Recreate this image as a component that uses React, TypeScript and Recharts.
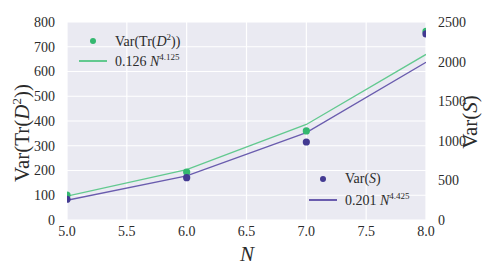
import React from 'react';
import {
  ComposedChart,
  Line,
  Scatter,
  XAxis,
  YAxis,
  CartesianGrid,
} from 'recharts';

const nValues = [5, 6, 7, 8];
const trFit = [96, 204, 386, 669];
const sFit = [249, 558, 1103, 1991];
const trObserved = [101, 194, 360, 762];
const sObserved = [262, 535, 985, 2350];

const xTicks = [5, 5.5, 6, 6.5, 7, 7.5, 8];
const leftTicks = [0, 100, 200, 300, 400, 500, 600, 700, 800];
const rightTicks = [0, 500, 1000, 1500, 2000, 2500];

const GREEN_DOT = '#34b870';
const GREEN_LINE = '#62c98f';
const PURPLE_DOT = '#433a92';
const PURPLE_LINE = '#6a5cae';
const FONT = 'Times New Roman, Liberation Serif, serif';
const TEXT = '#2b2b2b';

const fitData = nValues.map((n, i) => ({ n, trFit: trFit[i], sFit: sFit[i] }));
const trPoints = nValues.map((n, i) => ({ n, y: trObserved[i] }));
const sPoints = nValues.map((n, i) => ({ n, y: sObserved[i] }));

const tickStyle = { fontSize: 14, fill: TEXT, fontFamily: FONT };

function Dot({ cx, cy, fill }: { cx?: number; cy?: number; fill?: string }) {
  if (cx == null || cy == null) return null;
  return <circle cx={cx} cy={cy} r={3.6} fill={fill} />;
}

function LegendRow({
  x,
  y,
  kind,
  color,
  children,
}: {
  x: number;
  y: number;
  kind: 'dot' | 'line';
  color: string;
  children: React.ReactNode;
}) {
  return (
    <div
      style={{
        position: 'absolute',
        left: x,
        top: y - 10,
        height: 20,
        display: 'flex',
        alignItems: 'center',
        fontFamily: FONT,
        fontSize: 14,
        color: TEXT,
        whiteSpace: 'nowrap',
      }}
    >
      <span style={{ width: 45, display: 'flex', justifyContent: 'center' }}>
        {kind === 'dot' ? (
          <span style={{ width: 6, height: 6, borderRadius: 3, background: color }} />
        ) : (
          <span style={{ width: 28, height: 1.3, background: color }} />
        )}
      </span>
      <span>{children}</span>
    </div>
  );
}

export default function App() {
  return (
    <div
      style={{
        position: 'absolute',
        left: 0,
        top: 0,
        width: 498,
        height: 277,
        background: '#fff',
      }}
    >
      <ComposedChart
        width={498}
        height={277}
        data={fitData}
        margin={{ top: 22, right: 0, bottom: 0, left: 0 }}
      >
        <CartesianGrid
          yAxisId="left"
          fill="#EAEAF2"
          stroke="#ffffff"
          strokeWidth={1.2}
          horizontalValues={leftTicks}
          verticalValues={xTicks}
        />
        <XAxis
          dataKey="n"
          type="number"
          domain={[5, 8]}
          ticks={xTicks}
          allowDataOverflow
          tickFormatter={(v: number) => v.toFixed(1)}
          tick={tickStyle}
          axisLine={false}
          tickLine={false}
          tickMargin={0}
          height={57}
        />
        <YAxis
          yAxisId="left"
          domain={[0, 800]}
          ticks={leftTicks}
          tick={tickStyle}
          axisLine={false}
          tickLine={false}
          tickMargin={6}
          width={67}
        />
        <YAxis
          yAxisId="right"
          orientation="right"
          domain={[0, 2500]}
          ticks={rightTicks}
          tick={{ ...tickStyle, textAnchor: 'start' }}
          axisLine={false}
          tickLine={false}
          tickMargin={6}
          width={72}
        />
        <Line
          yAxisId="left"
          dataKey="trFit"
          stroke={GREEN_LINE}
          strokeWidth={1.3}
          dot={false}
          isAnimationActive={false}
        />
        <Line
          yAxisId="right"
          dataKey="sFit"
          stroke={PURPLE_LINE}
          strokeWidth={1.3}
          dot={false}
          isAnimationActive={false}
        />
        <Scatter
          yAxisId="left"
          data={trPoints}
          dataKey="y"
          fill={GREEN_DOT}
          shape={<Dot />}
          isAnimationActive={false}
        />
        <Scatter
          yAxisId="right"
          data={sPoints}
          dataKey="y"
          fill={PURPLE_DOT}
          shape={<Dot />}
          isAnimationActive={false}
        />
      </ComposedChart>

      <LegendRow x={70} y={41} kind="dot" color={GREEN_DOT}>
        Var(Tr(<i>D</i>
        <sup style={{ fontSize: 9 }}>2</sup>))
      </LegendRow>
      <LegendRow x={70} y={61} kind="line" color={GREEN_LINE}>
        0.126 <i>N</i>
        <sup style={{ fontSize: 9 }}>4.125</sup>
      </LegendRow>
      <LegendRow x={300} y={179} kind="dot" color={PURPLE_DOT}>
        Var(<i>S</i>)
      </LegendRow>
      <LegendRow x={300} y={200} kind="line" color={PURPLE_LINE}>
        0.201 <i>N</i>
        <sup style={{ fontSize: 9 }}>4.425</sup>
      </LegendRow>

      <div
        style={{
          position: 'absolute',
          left: 247,
          top: 254,
          transform: 'translate(-50%, -50%)',
          fontFamily: FONT,
          fontSize: 21,
          fontStyle: 'italic',
          color: TEXT,
        }}
      >
        N
      </div>
      <div
        style={{
          position: 'absolute',
          left: 22,
          top: 133,
          transform: 'translate(-50%, -50%) rotate(-90deg)',
          fontFamily: FONT,
          fontSize: 21,
          color: TEXT,
          whiteSpace: 'nowrap',
        }}
      >
        Var(Tr(<i>D</i>
        <sup style={{ fontSize: 13 }}>2</sup>))
      </div>
      <div
        style={{
          position: 'absolute',
          left: 470,
          top: 122,
          transform: 'translate(-50%, -50%) rotate(-90deg)',
          fontFamily: FONT,
          fontSize: 21,
          color: TEXT,
          whiteSpace: 'nowrap',
        }}
      >
        Var(<i>S</i>)
      </div>
    </div>
  );
}
